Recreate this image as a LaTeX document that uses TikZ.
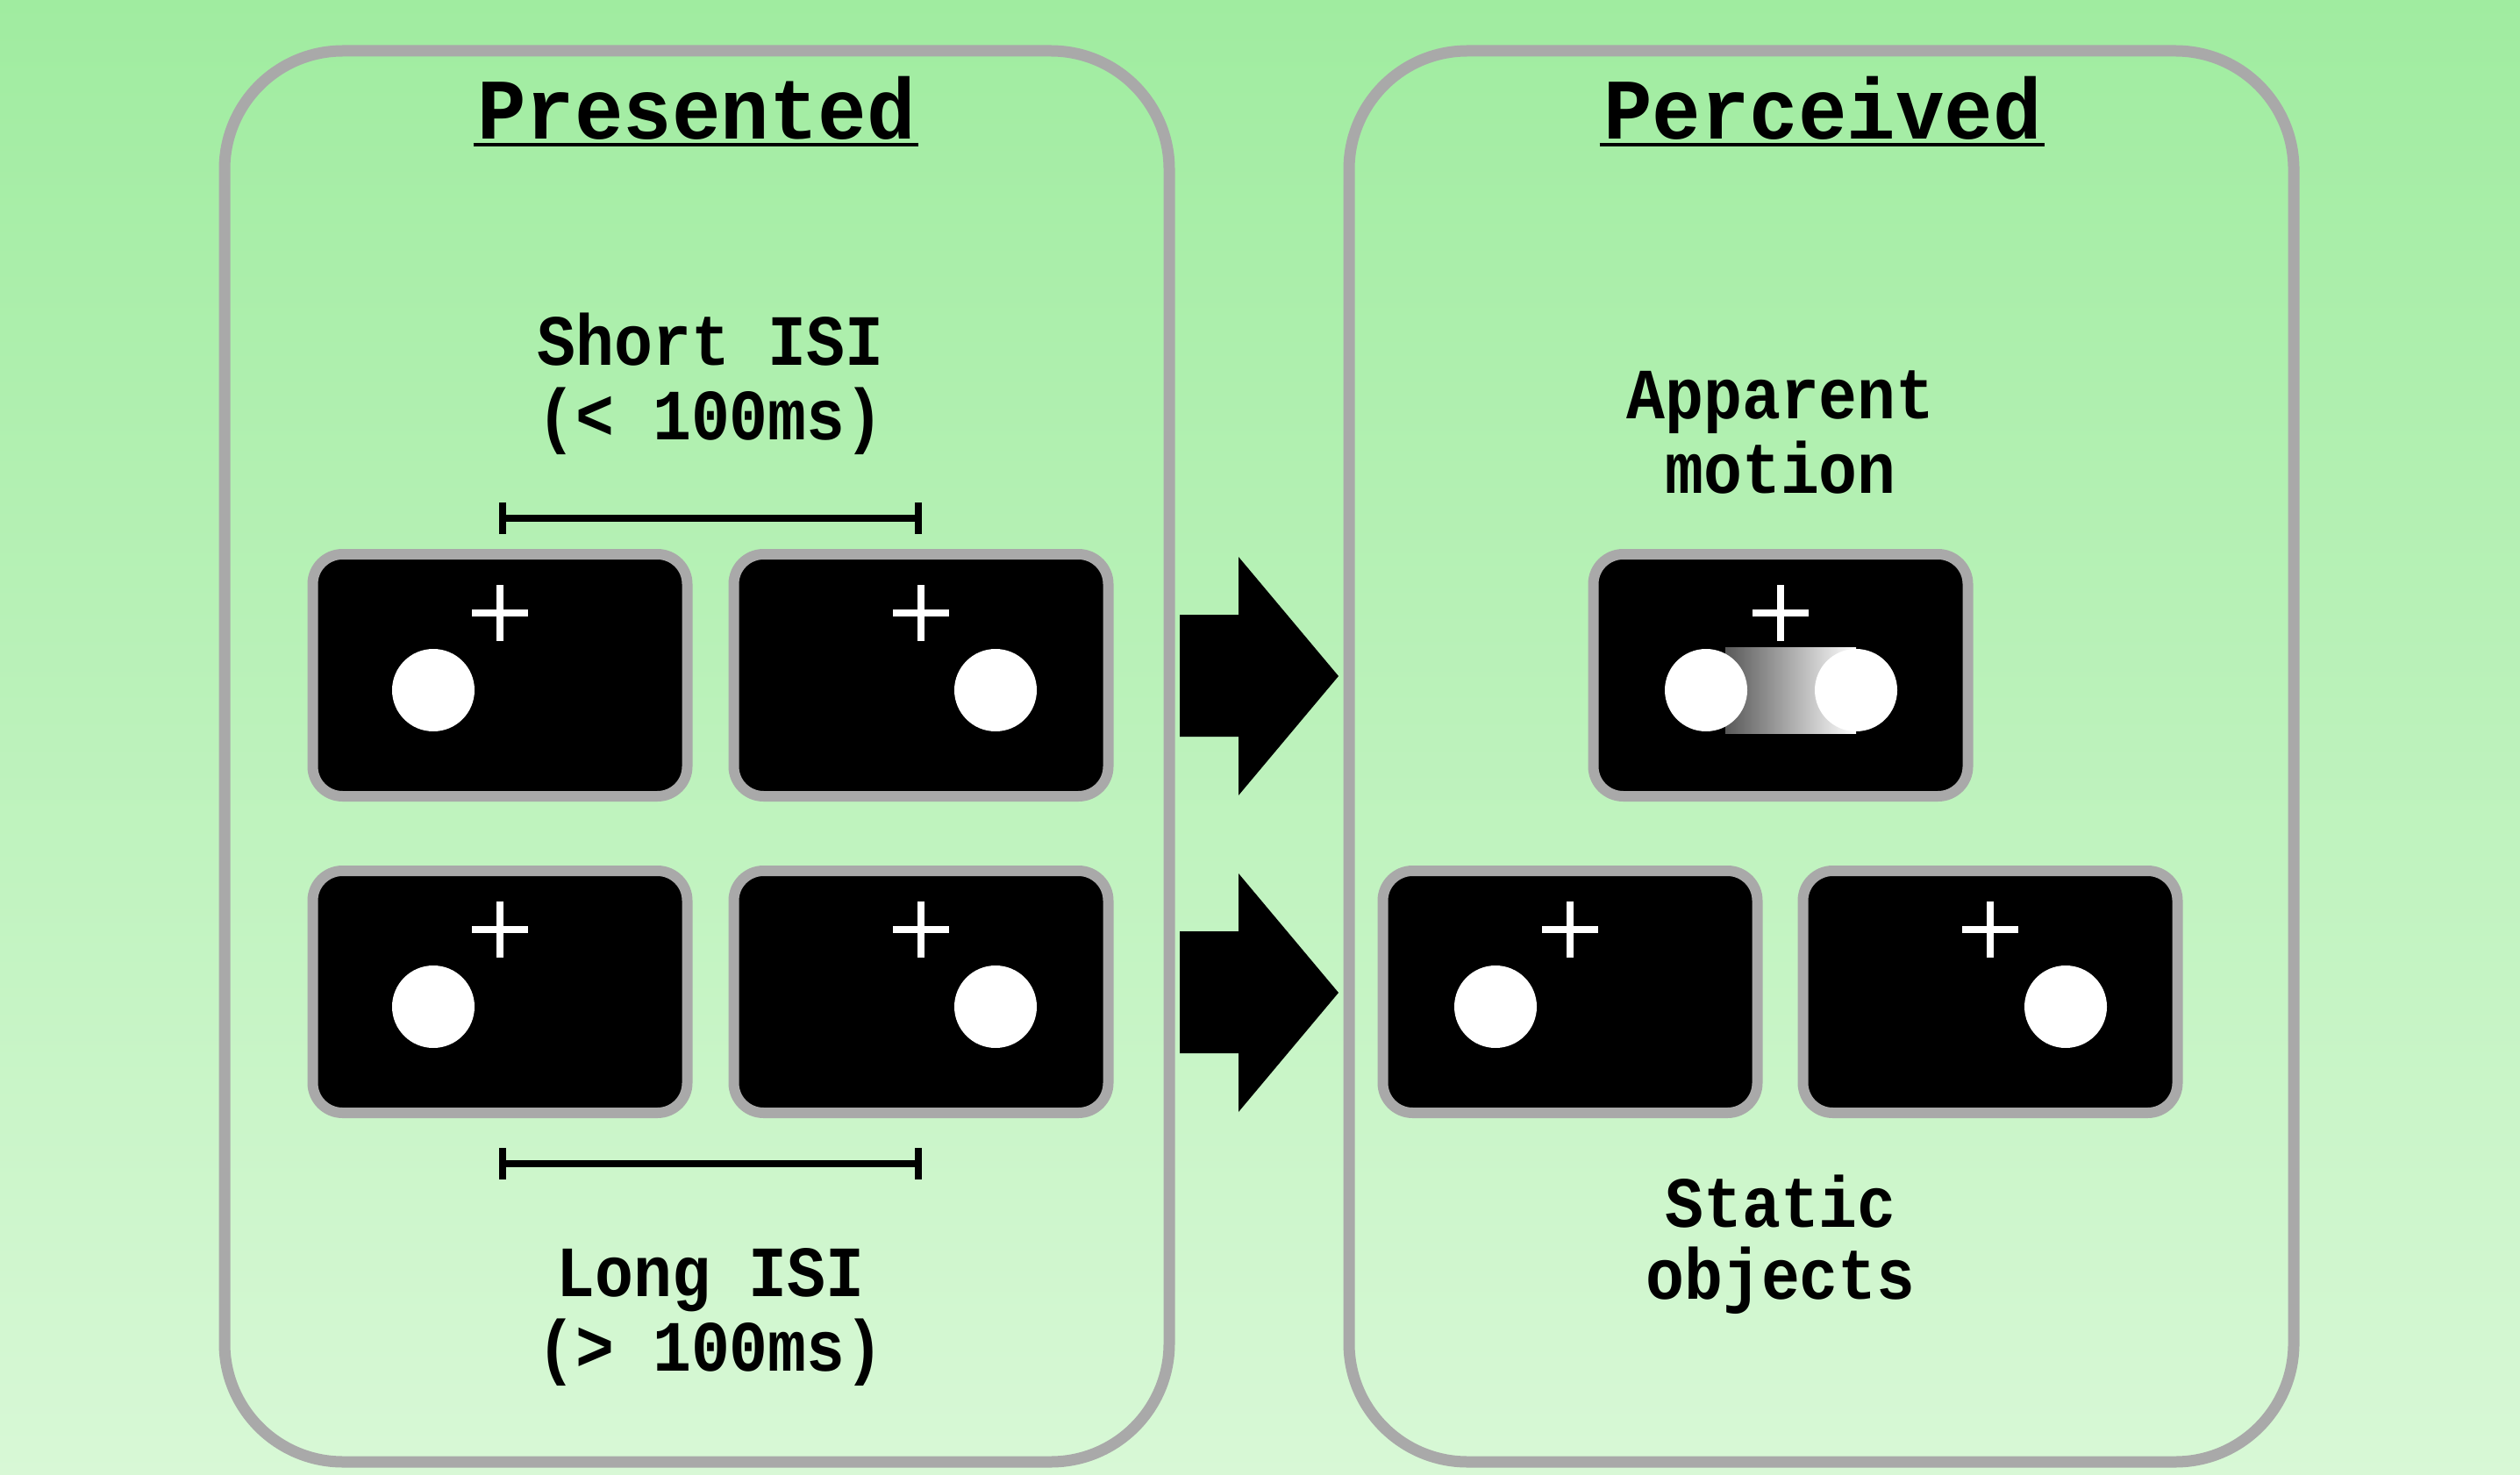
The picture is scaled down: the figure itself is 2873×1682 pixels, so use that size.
\documentclass[tikz,border=0pt]{standalone}
\usepackage{fontspec}
\newfontfamily\titlefont[FakeStretch=0.94]{Liberation Mono}
\newfontfamily\lblfont[FakeStretch=0.89]{Liberation Mono}
\usetikzlibrary{calc}
\definecolor{bgtop}{RGB}{160,236,160}
\definecolor{bgbot}{RGB}{216,248,214}
\definecolor{framegray}{RGB}{169,169,169}
\tikzset{
  panel/.style={draw=framegray, line width=1.3mm, rounded corners=13.5mm},
  screen/.style={draw=framegray, fill=black, line width=1.2mm, rounded corners=3.4mm,
    minimum width=42.7mm, minimum height=27.6mm, inner sep=0pt},
  fixcross/.style={draw=white, line width=0.85mm},
  dot/.style={fill=white},
  titletext/.style={font=\titlefont\bfseries\fontsize{28}{32}\selectfont, anchor=base, inner sep=0pt},
  labeltext/.style={font=\lblfont\bfseries\fontsize{23.4}{26}\selectfont, anchor=base, inner sep=0pt},
  isibar/.style={line width=0.8mm},
  bigarrow/.style={fill=black},
}
\newcommand\stimscreen[4]{%
  \node[screen] (#1) at (#2,#3) {};
  \draw[fixcross] ($(#1)+(0,-103)$) -- ($(#1)+(0,-39)$)
                  ($(#1)+(-32,-71)$) -- ($(#1)+(32,-71)$);
  \fill[dot] ($(#1)+(#4,17)$) circle[radius=4.7mm];
}
\begin{document}
\begin{tikzpicture}[x=0.1mm, y=-0.1mm]
\useasboundingbox (0,0) rectangle (2873,1682);
\shade[top color=bgtop, bottom color=bgbot] (0,0) rectangle (2873,1682);

% panels
\draw[panel] (256,58) rectangle (1333,1667);
\draw[panel] (1538,58) rectangle (2615,1667);

% titles
\node[titletext] (pres) at (794,159) {Presented};
\node[titletext] (perc) at (2078,159) {Perceived};
\draw[line width=0.4mm] ($(pres.base west)+(-4,6)$) -- ($(pres.base east)+(2,6)$);
\draw[line width=0.4mm] ($(perc.base west)+(-4,6)$) -- ($(perc.base east)+(2,6)$);

% labels
\node[labeltext] (short1) at (810,417) {Short ISI};
\node[labeltext] (short2) at (810,502) {(< 100ms)};
\node[labeltext] (long1) at (810,1478) {Long ISI};
\node[labeltext] (long2) at (810,1563) {(> 100ms)};
\node[labeltext] (app1) at (2030,478) {Apparent};
\node[labeltext] (app2) at (2030,563) {motion};
\node[labeltext] (stat1) at (2030,1399) {Static};
\node[labeltext] (stat2) at (2030,1481) {objects};

% ISI bars
\coordinate (sbl) at (573,591); \coordinate (sbr) at (1047,591);
\draw[isibar] (sbl) -- (sbr);
\draw[isibar] ($(sbl)+(0,-18)$) -- ($(sbl)+(0,18)$);
\draw[isibar] ($(sbr)+(0,-18)$) -- ($(sbr)+(0,18)$);
\coordinate (lbl) at (573,1327); \coordinate (lbr) at (1047,1327);
\draw[isibar] (lbl) -- (lbr);
\draw[isibar] ($(lbl)+(0,-18)$) -- ($(lbl)+(0,18)$);
\draw[isibar] ($(lbr)+(0,-18)$) -- ($(lbr)+(0,18)$);

% presented screens
\stimscreen{L1}{570}{770}{-76}
\stimscreen{L2}{1050}{770}{85}
\stimscreen{L3}{570}{1131}{-76}
\stimscreen{L4}{1050}{1131}{85}

% perceived: apparent motion
\node[screen] (AM) at (2030,770) {};
\shade[left color=black!65, right color=white] ($(AM)+(-63,-32)$) rectangle ($(AM)+(86,66)$);
\fill[dot] ($(AM)+(-85,17)$) circle[radius=4.7mm];
\fill[dot] ($(AM)+(86,17)$) circle[radius=4.7mm];
\draw[fixcross] ($(AM)+(0,-103)$) -- ($(AM)+(0,-39)$)
                ($(AM)+(-32,-71)$) -- ($(AM)+(32,-71)$);

% perceived: static objects
\stimscreen{R1}{1790}{1131}{-85}
\stimscreen{R2}{2269}{1131}{86}

% block arrows
\fill[bigarrow] (1345,701) -- (1412,701) -- (1412,635) -- (1526,771)
  -- (1412,907) -- (1412,840) -- (1345,840) -- cycle;
\fill[bigarrow] (1345,1062) -- (1412,1062) -- (1412,996) -- (1526,1132)
  -- (1412,1268) -- (1412,1201) -- (1345,1201) -- cycle;
\end{tikzpicture}
\end{document}
